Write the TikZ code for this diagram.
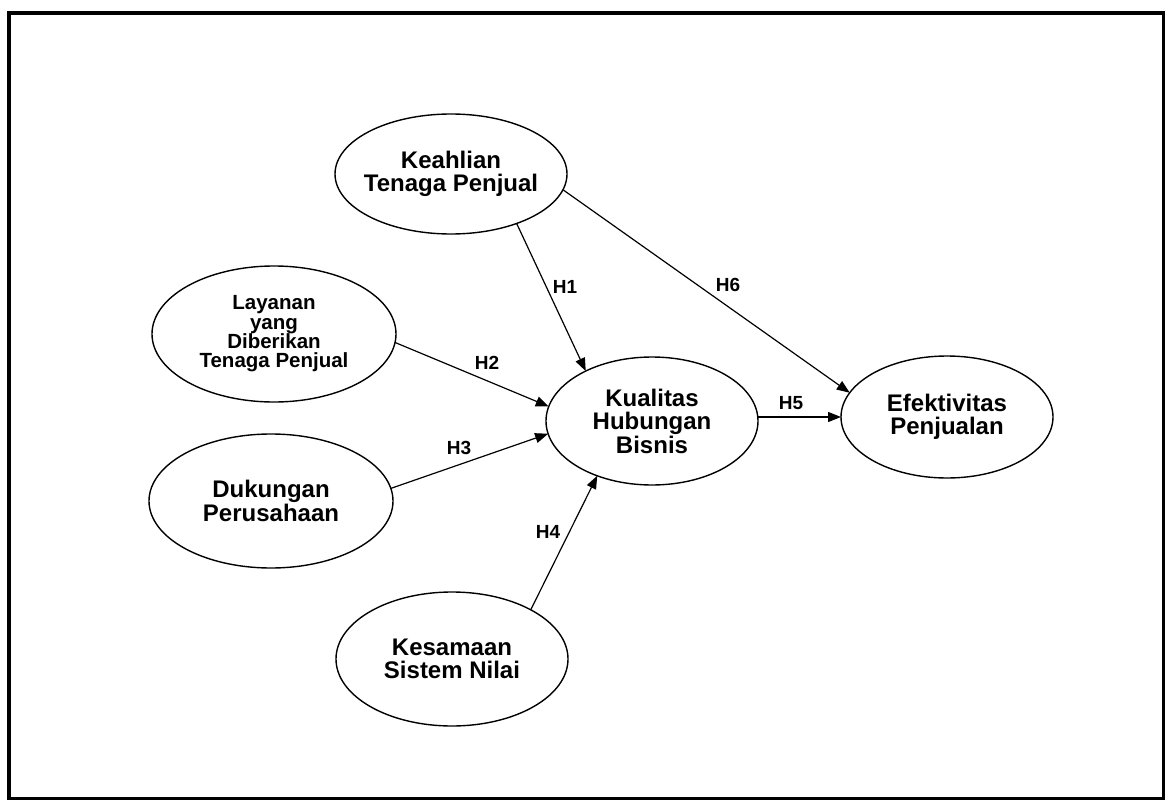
\documentclass[tikz,border=0pt]{standalone}
\usepackage{fontspec}
\setmainfont{Liberation Sans}
\usetikzlibrary{shapes.geometric,arrows.meta}
\begin{document}
\begin{tikzpicture}[x=1pt,y=-1pt,
  construct/.style={draw, ellipse, line width=1.4pt, inner sep=0pt, outer sep=0pt,
    align=center, font=\bfseries\fontsize{24}{23.5}\selectfont},
  smalltext/.style={font=\bfseries\fontsize{20.5}{19.4}\selectfont},
  link/.style={line width=1.2pt, -{Triangle[length=13pt,width=10pt]}},
  hyp/.style={font=\bfseries\fontsize{19}{20}\selectfont, inner sep=0pt}]
\useasboundingbox (0,0) rectangle (1165,800);
% outer frame
\draw[line width=4pt] (8.7,13) rectangle (1164,798.5);

% constructs
\node[construct, inner xsep=-14pt, minimum width=232pt, minimum height=120pt] (K) at (451,174) {Keahlian\\Tenaga Penjual};
\node[construct, smalltext, inner xsep=-6pt, minimum width=244pt, minimum height=136pt] (L) at (274,334) {Layanan\\yang\\Diberikan\\Tenaga Penjual};
\node[construct, minimum width=244pt, minimum height=134pt] (D) at (271,501) {Dukungan\\Perusahaan};
\node[construct, minimum width=232pt, minimum height=134pt] (S) at (452,659) {Kesamaan\\Sistem Nilai};
\node[construct, minimum width=212pt, minimum height=128pt] (Q) at (652,421) {Kualitas\\Hubungan\\Bisnis};
\node[construct, minimum width=212pt, minimum height=122pt] (E) at (947,417) {Efektivitas\\Penjualan};

% hypothesised paths
\draw[link] (K.-37) -- (Q.143);
\draw[link] (K.-8.5) -- (E.166);
\draw[link] (L.-4.7) -- (Q.172);
\draw[link] (D.6.5) -- (Q.-173);
\draw[link] (S.32) -- (Q.225);
\draw[link] (Q.east |- E.west) -- (E.west);

% path labels
\node[hyp] (h1) at (565,287) {H1};
\node[hyp] (h2) at (487,363) {H2};
\node[hyp] (h3) at (459,448) {H3};
\node[hyp] (h4) at (548,532) {H4};
\node[hyp] (h5) at (791,403) {H5};
\node[hyp] (h6) at (728,285) {H6};
\end{tikzpicture}
\end{document}
